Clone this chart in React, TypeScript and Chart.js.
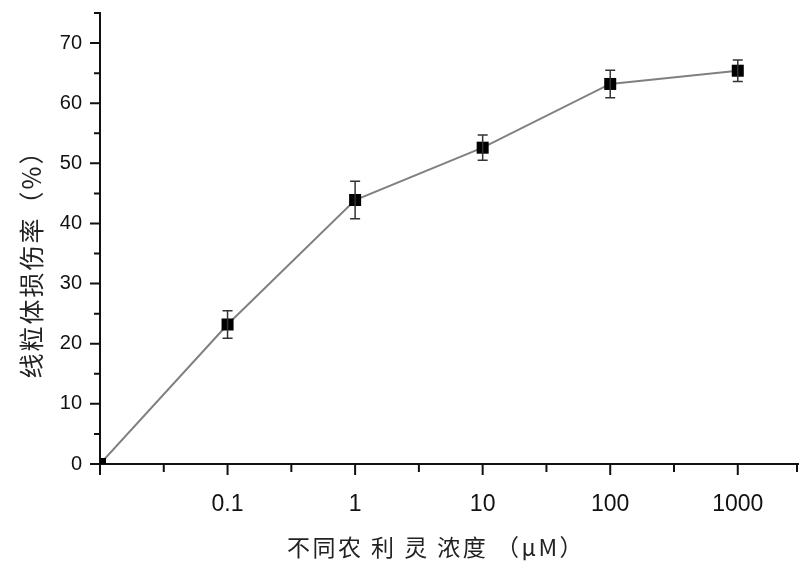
import React, { useEffect, useRef } from "react";
import { Chart, registerables } from "chart.js";

Chart.register(...registerables);

// concentrations (µM) shown on the x axis, one evenly spaced slot each
const concentrations = ["0", "0.1", "1", "10", "100", "1000"];
const slots = [0, 1, 2, 3, 4, 5];
// mitochondrial damage rate (%)
const damageRate = [0, 23.2, 43.9, 52.6, 63.2, 65.4];
const damageError = [0, 2.3, 3.1, 2.1, 2.3, 1.8];
const yMajorTicks = [0, 10, 20, 30, 40, 50, 60, 70];
const yMinorTicks = [5, 15, 25, 35, 45, 55, 65, 75];
const xMinorTicks = [0.5, 1.5, 2.5, 3.5, 4.5, 5.5];

const yTitle = "线粒体损伤率（%）";
const xTitle = "不同农 利 灵 浓度 （μM）";

const errorBarPlugin = {
  id: "errorBars",
  afterDatasetsDraw(chart: any) {
    const { ctx, scales } = chart;
    const xs = scales.x;
    const ys = scales.y;
    ctx.save();
    ctx.strokeStyle = "#333";
    ctx.lineWidth = 1.5;
    slots.forEach((s, i) => {
      const e = damageError[i];
      if (!e) return;
      const x = xs.getPixelForValue(s);
      const yt = ys.getPixelForValue(damageRate[i] + e);
      const yb = ys.getPixelForValue(damageRate[i] - e);
      ctx.beginPath();
      ctx.moveTo(x, yt);
      ctx.lineTo(x, yb);
      ctx.moveTo(x - 5, yt);
      ctx.lineTo(x + 5, yt);
      ctx.moveTo(x - 5, yb);
      ctx.lineTo(x + 5, yb);
      ctx.stroke();
    });
    ctx.restore();
  },
};

const axisDecorPlugin = {
  id: "axisDecor",
  afterDraw(chart: any) {
    const { ctx, scales, chartArea } = chart;
    const xs = scales.x;
    const ys = scales.y;
    ctx.save();
    ctx.strokeStyle = "#111";
    ctx.lineWidth = 2;
    ctx.beginPath();
    yMajorTicks.forEach((v) => {
      const y = ys.getPixelForValue(v);
      ctx.moveTo(chartArea.left - 10, y);
      ctx.lineTo(chartArea.left, y);
    });
    yMinorTicks.forEach((v) => {
      const y = ys.getPixelForValue(v);
      ctx.moveTo(chartArea.left - 6, y);
      ctx.lineTo(chartArea.left, y);
    });
    slots.forEach((v) => {
      const x = xs.getPixelForValue(v);
      ctx.moveTo(x, chartArea.bottom);
      ctx.lineTo(x, chartArea.bottom + 11);
    });
    xMinorTicks.forEach((v) => {
      const x = Math.min(xs.getPixelForValue(v), chart.width - 2);
      ctx.moveTo(x, chartArea.bottom);
      ctx.lineTo(x, chartArea.bottom + 8);
    });
    ctx.stroke();

    ctx.fillStyle = "#222";
    ctx.textAlign = "center";
    ctx.textBaseline = "middle";
    ctx.letterSpacing = "2.5px";
    ctx.font = '23px "Noto Sans CJK SC"';
    ctx.fillText(xTitle, 436, 547);
    ctx.letterSpacing = "2px";
    ctx.translate(31, 258);
    ctx.rotate(-Math.PI / 2);
    ctx.font = '25px "Noto Sans CJK SC"';
    ctx.fillText(yTitle, 0, 0);
    ctx.restore();
  },
};

export default function App() {
  const ref = useRef<HTMLCanvasElement>(null);
  useEffect(() => {
    if (!ref.current) return;
    const chart = new Chart(ref.current, {
      type: "line",
      data: {
        datasets: [
          {
            data: slots.map((s, i) => ({ x: s, y: damageRate[i] })),
            borderColor: "#808080",
            borderWidth: 2,
            pointStyle: "rect",
            pointRadius: 8.5,
            pointBackgroundColor: "#000",
            pointBorderColor: "#000",
            pointBorderWidth: 0,
            tension: 0,
          },
        ],
      },
      options: {
        responsive: false,
        animation: false,
        layout: { autoPadding: false, padding: { top: 13, left: 0, right: 0, bottom: 0 } },
        plugins: { legend: { display: false }, tooltip: { enabled: false } },
        scales: {
          x: {
            type: "linear",
            min: 0,
            max: 5.48,
            afterBuildTicks: (scale: any) => {
              scale.ticks = slots.map((v) => ({ value: v }));
            },
            afterFit: (scale: any) => {
              scale.height = 103;
              scale.paddingLeft = 0;
              scale.paddingRight = 0;
            },
            grid: { display: false, drawTicks: false },
            border: { display: true, color: "#111", width: 2 },
            ticks: {
              padding: 27,
              color: "#111",
              maxRotation: 0,
              font: { family: "Liberation Sans", size: 23 },
              callback: (v: any) => {
                const i = slots.indexOf(Number(v));
                return i > 0 ? concentrations[i] : "";
              },
            },
          },
          y: {
            min: 0,
            max: 75,
            afterBuildTicks: (scale: any) => {
              scale.ticks = yMajorTicks.map((v) => ({ value: v }));
            },
            afterFit: (scale: any) => {
              scale.width = 100;
              scale.paddingTop = 0;
              scale.paddingBottom = 0;
            },
            grid: { display: false, drawTicks: false },
            border: { display: true, color: "#111", width: 2 },
            ticks: {
              padding: 18,
              color: "#111",
              font: { family: "Liberation Sans", size: 20 },
              callback: (v: any) => String(v),
            },
          },
        },
      },
      plugins: [errorBarPlugin, axisDecorPlugin],
    });
    return () => chart.destroy();
  }, []);
  return (
    <div style={{ position: "absolute", left: 0, top: 0, width: 799, height: 567, background: "#fff" }}>
      <canvas ref={ref} width={799} height={567} />
    </div>
  );
}
